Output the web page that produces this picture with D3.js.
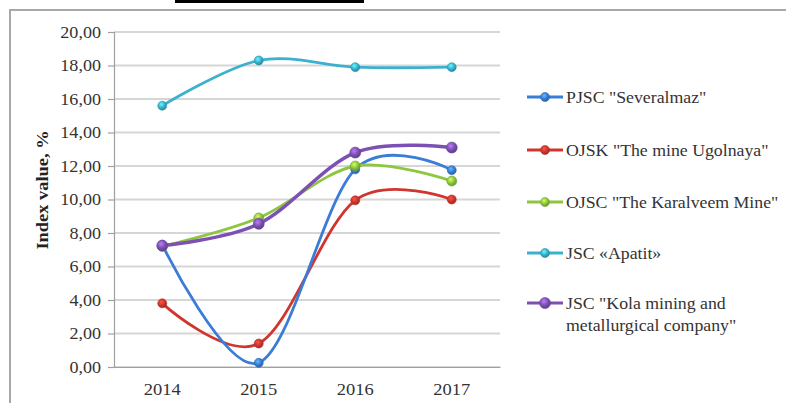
<!DOCTYPE html>
<html><head><meta charset="utf-8">
<script src="https://cdn.jsdelivr.net/npm/d3@7/dist/d3.min.js"></script>
<style>
html,body{margin:0;padding:0;background:#fff;}
svg{display:block;}
</style></head>
<body>
<script>
const years = ["2014","2015","2016","2017"];
const legendLines = [
  ['PJSC "Severalmaz"'],
  ['OJSK "The mine Ugolnaya"'],
  ['OJSC "The Karalveem Mine"'],
  ['JSC «Apatit»'],
  ['JSC "Kola mining and', 'metallurgical company"']
];
const severalmaz = [7.3, 0.25, 11.8, 11.75];
const ugolnaya   = [3.8, 1.4, 9.95, 10.0];
const karalveem  = [7.2, 8.9, 12.0, 11.1];
const apatit     = [15.6, 18.3, 17.9, 17.9];
const kola       = [7.25, 8.55, 12.8, 13.1];
const colors = ["#3b7dd6", "#d0362e", "#8dc63f", "#3cb1cf", "#7d51b3"];
const yTicks = [0,2,4,6,8,10,12,14,16,18,20];
const yTitle = "Index value, %";

const SERIF = "'Liberation Serif', 'Times New Roman', 'DejaVu Serif', serif";
const allValues = [severalmaz, ugolnaya, karalveem, apatit, kola];
const W = 786, H = 403;
const svg = d3.select("body").append("svg").attr("width", W).attr("height", H);

function stretch(sel, f){
  sel.each(function(){
    const w = this.getComputedTextLength();
    this.setAttribute("textLength", (w*f).toFixed(2));
    this.setAttribute("lengthAdjust","spacingAndGlyphs");
  });
}

// frame
svg.append("rect").attr("x",175).attr("y",-2).attr("width",189).attr("height",5).attr("fill","#000");
svg.append("path").attr("d",`M10,${H+2} L10,10 L${W+2},10`).attr("fill","none").attr("stroke","#a8a8a8").attr("stroke-width",2);

const x = d3.scaleBand().domain(years).range([114,500]);
const y = d3.scaleLinear().domain([0,20]).range([367,32]);

// gridlines
svg.append("g").selectAll("line").data(yTicks).join("line")
  .attr("x1",114).attr("x2",500).attr("y1",d=>y(d)).attr("y2",d=>y(d))
  .attr("stroke","#d6d6d6").attr("stroke-width",1.8);

// y axis
const yAxis = svg.append("g").attr("transform","translate(114,0)")
  .call(d3.axisLeft(y).tickValues(yTicks).tickSize(6).tickPadding(7)
    .tickFormat(d=>d3.format(".2f")(d).replace(".",",")));
yAxis.select(".domain").attr("stroke","#a0a0a0").attr("stroke-width",1.2);
yAxis.selectAll(".tick line").attr("stroke","#a0a0a0").attr("stroke-width",1.2);
yAxis.selectAll("text").style("font-family",SERIF).style("font-size","16px").attr("fill","#333").call(stretch,1.13);

// x axis
const xAxis = svg.append("g").attr("transform","translate(0,367)")
  .call(d3.axisBottom(x).tickSize(0).tickPadding(16));
xAxis.select(".domain").attr("stroke","#a0a0a0").attr("stroke-width",1.2);
xAxis.selectAll("text").style("font-family",SERIF).style("font-size","16.5px").attr("fill","#333").call(stretch,1.12);

// y title
svg.append("text").attr("transform","translate(48,190) rotate(-90)")
  .attr("text-anchor","middle").style("font-family",SERIF).style("font-weight","bold").style("font-size","16px").attr("fill","#222")
  .text(yTitle).call(stretch,1.15);

// gradients
const defs = svg.append("defs");
colors.forEach((c,i)=>{
  const g = defs.append("radialGradient").attr("id","g"+i).attr("cx","40%").attr("cy","35%").attr("r","65%");
  g.append("stop").attr("offset","0%").attr("stop-color",d3.color(c).brighter(1.2));
  g.append("stop").attr("offset","55%").attr("stop-color",c);
  g.append("stop").attr("offset","100%").attr("stop-color",d3.color(c).darker(0.8));
});

const line = d3.line().x((d,i)=>x(years[i])+x.bandwidth()/2).y(d=>y(d)).curve(d3.curveCardinal.tension(0));

const order = [3,1,0,2,4];
order.forEach(i=>{
  svg.append("path").datum(allValues[i]).attr("d",line).attr("fill","none")
    .attr("stroke",colors[i]).attr("stroke-width",i===4?3.5:2.8).attr("stroke-linecap","round");
});
order.forEach(i=>{
  svg.append("g").selectAll("circle").data(allValues[i]).join("circle")
    .attr("cx",(d,j)=>x(years[j])+x.bandwidth()/2).attr("cy",d=>y(d))
    .attr("r",i===4?5.5:i===2?5:4.5).attr("fill",`url(#g${i})`)
    .attr("stroke",d3.color(colors[i]).darker(0.5)).attr("stroke-width",0.6);
});

// legend
const legY = [97,150,202,253,303];
const leg = svg.append("g");
legendLines.forEach((lines,i)=>{
  const g = leg.append("g").attr("transform",`translate(0,${legY[i]})`);
  g.append("line").attr("x1",527).attr("x2",563).attr("y1",0).attr("y2",0)
    .attr("stroke",colors[i]).attr("stroke-width",3);
  g.append("circle").attr("cx",545).attr("cy",0).attr("r",i===4?5.5:4.5)
    .attr("fill",`url(#g${i})`).attr("stroke",d3.color(colors[i]).darker(0.5)).attr("stroke-width",0.6);
  lines.forEach((t,k)=>{
    g.append("text").attr("x",566).attr("y",k*22).attr("dy","0.35em")
      .style("font-family",SERIF).style("font-size","16px").attr("fill","#333").text(t).call(stretch,1.11);
  });
});
</script>
</body></html>
